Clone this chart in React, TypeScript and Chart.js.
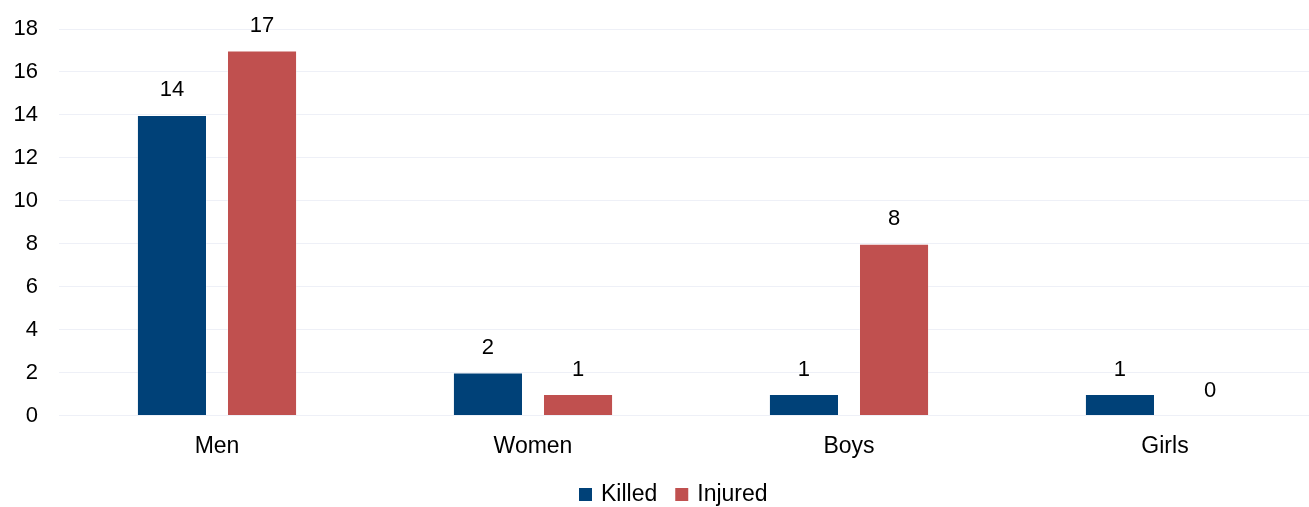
import React, { useEffect, useRef } from "react";
import { Chart, registerables } from "chart.js";

Chart.register(...registerables);

const categories = ["Men", "Women", "Boys", "Girls"];
const killed = [14, 2, 1, 1];
const injured = [17, 1, 8, 0];
const yTicks = [0, 2, 4, 6, 8, 10, 12, 14, 16, 18];

const FONT = "'Liberation Sans', Arial, sans-serif";

const valueLabels = {
  id: "valueLabels",
  afterDatasetsDraw(chart: any) {
    const ctx = chart.ctx;
    ctx.save();
    ctx.font = `22px ${FONT}`;
    ctx.fillStyle = "#000";
    ctx.textAlign = "center";
    ctx.textBaseline = "middle";
    chart.data.datasets.forEach((ds: any, i: number) => {
      const meta = chart.getDatasetMeta(i);
      meta.data.forEach((bar: any, j: number) => {
        ctx.fillText(String(ds.data[j]), bar.x, bar.y - 24.5);
      });
    });
    ctx.restore();
  },
};

const customLegend = {
  id: "customLegend",
  afterDraw(chart: any) {
    const ctx = chart.ctx;
    ctx.save();
    ctx.font = `23px ${FONT}`;
    ctx.textBaseline = "middle";
    ctx.textAlign = "left";
    const cy = 495;
    const box = 13;
    const gap = 9;
    const spacing = 18;
    let x = 579;
    chart.data.datasets.forEach((ds: any) => {
      ctx.fillStyle = ds.backgroundColor;
      ctx.fillRect(x, cy - 7, box, box);
      x += box + gap;
      ctx.fillStyle = "#000";
      ctx.fillText(ds.label, x, cy);
      x += ctx.measureText(ds.label).width + spacing;
    });
    ctx.restore();
  },
};

export default function App() {
  const ref = useRef<HTMLCanvasElement | null>(null);
  useEffect(() => {
    if (!ref.current) return;
    const chart = new Chart(ref.current, {
      type: "bar",
      data: {
        labels: categories,
        datasets: [
          {
            label: "Killed",
            data: killed,
            backgroundColor: "#004178",
            borderColor: "rgba(255,255,255,0.35)",
            borderWidth: 1,
            barPercentage: 0.778,
            categoryPercentage: 0.57,
          },
          {
            label: "Injured",
            data: injured,
            backgroundColor: "#C0504F",
            borderColor: "rgba(255,255,255,0.35)",
            borderWidth: 1,
            barPercentage: 0.778,
            categoryPercentage: 0.57,
          },
        ],
      },
      options: {
        animation: false,
        responsive: true,
        maintainAspectRatio: false,
        layout: { padding: { top: 29, right: 7, left: 0, bottom: 0 } },
        plugins: {
          tooltip: { enabled: false },
          legend: { display: false },
        },
        scales: {
          x: {
            grid: { display: false },
            border: { display: false },
            ticks: { color: "#000", font: { family: FONT, size: 23 }, padding: 9 },
            afterFit: (s: any) => {
              s.height = 91.5;
            },
          },
          y: {
            min: 0,
            max: 18,
            afterBuildTicks: (s: any) => {
              s.ticks = yTicks.map((v) => ({ value: v }));
            },
            grid: { color: "#eef0f7", drawTicks: false },
            border: { display: false },
            ticks: { color: "#000", font: { family: FONT, size: 22 }, padding: 21 },
            afterFit: (s: any) => {
              s.width = 59;
              s.paddingTop = 0;
              s.paddingBottom = 0;
            },
          },
        },
      },
      plugins: [valueLabels, customLegend],
    });
    return () => chart.destroy();
  }, []);
  return (
    <div style={{ position: "fixed", left: 0, top: 0, width: 1309, height: 507, overflow: "hidden", background: "#fff" }}>
      <div style={{ width: 1330, height: 507, position: "relative" }}>
        <canvas ref={ref} />
      </div>
    </div>
  );
}
